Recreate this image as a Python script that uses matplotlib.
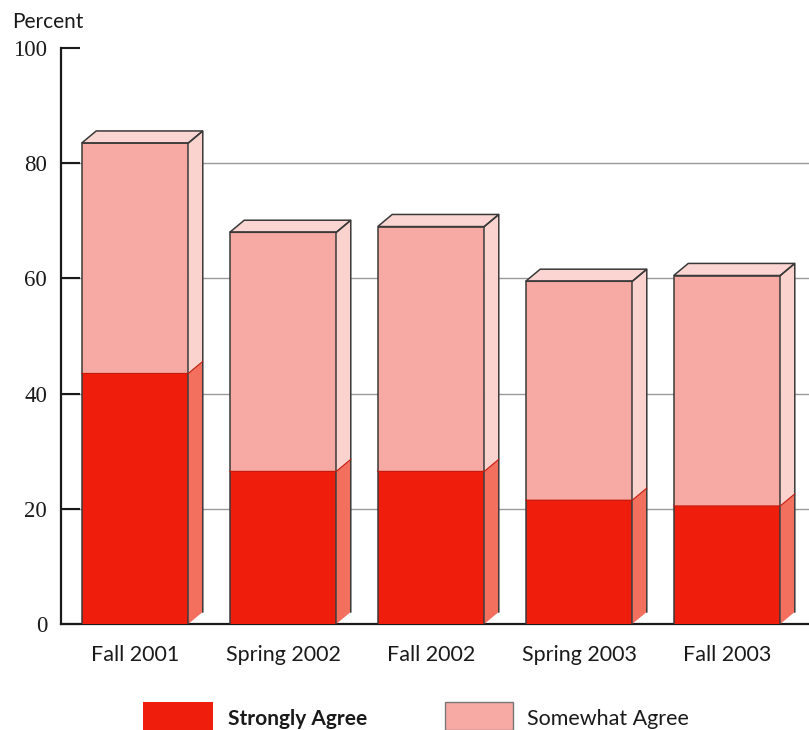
import matplotlib
matplotlib.use('Agg')
import matplotlib.pyplot as plt
from matplotlib.patches import Polygon, Rectangle
import numpy as np

# data
terms = ['Fall 2001', 'Spring 2002', 'Fall 2002', 'Spring 2003', 'Fall 2003']
strongly = [43.5, 26.5, 26.5, 21.5, 20.5]
somewhat = [40.0, 41.5, 42.5, 38.0, 40.0]
yticks = [0, 20, 40, 60, 80, 100]
gridlines = [20, 40, 60, 80]

red = '#ef1e0c'
red_side = '#f3705f'
pink = '#f7aaa3'
pink_side = '#fad3cf'
pink_top = '#fbd5d1'
edge = '#3a3a3a'
txt = '#1a1a1a'

width = 0.72
dx, dy = 0.098, 2.1   # depth of the fake 3d faces

fig = plt.figure(figsize=(8.09, 7.30), dpi=100)
ax = fig.add_axes([61 / 809, 106 / 730, 1 - 61 / 809, 576 / 730])

for g in gridlines:
    ax.axhline(g, color='#9a9a9a', lw=1.0, zorder=0)

x = np.arange(len(terms))
bottoms = np.zeros(len(terms))
for vals, front, side in [(strongly, red, red_side), (somewhat, pink, pink_side)]:
    ax.bar(x, vals, width, bottom=bottoms, color=front, edgecolor='none', zorder=3)
    for xi, b, v in zip(x, bottoms, vals):
        x1 = xi + width / 2
        ax.add_patch(Polygon([(x1, b), (x1 + dx, b + dy), (x1 + dx, b + v + dy), (x1, b + v)],
                             closed=True, facecolor=side, edgecolor='none', zorder=3))
    bottoms = bottoms + np.array(vals)

# outlines, boundaries and top faces
for xi, s, tot in zip(x, strongly, bottoms):
    x0, x1 = xi - width / 2, xi + width / 2
    ax.add_patch(Polygon([(x0, tot), (x0 + dx, tot + dy), (x1 + dx, tot + dy), (x1, tot)],
                         closed=True, facecolor=pink_top, edgecolor=edge, lw=1.1, zorder=4))
    ax.plot([x0, x0, x1, x1], [0, tot, tot, 0], color=edge, lw=1.1, zorder=4)
    ax.plot([x1, x1 + dx, x1 + dx], [tot, tot + dy, dy], color=edge, lw=1.1, zorder=4)
    ax.plot([x0, x1, x1 + dx], [s, s, s + dy], color='#c21a0c', lw=0.8, zorder=4)

ax.set_xlim(-0.5, 4.554)
ax.set_ylim(0, 100)
ax.set_yticks(yticks)
ax.set_yticklabels([str(t) for t in yticks], family=['Liberation Serif', 'DejaVu Serif'],
                   fontsize=16.5, color=txt)
ax.set_xticks(x)
ax.set_xticklabels(terms, family=['Lato', 'DejaVu Sans'], fontsize=15.5, color=txt)
ax.tick_params(axis='y', direction='in', length=14, width=1.5, pad=10, color=txt)
ax.tick_params(axis='x', length=0, pad=15)

for sp in ['top', 'right']:
    ax.spines[sp].set_visible(False)
for sp in ['left', 'bottom']:
    ax.spines[sp].set_linewidth(1.6)
    ax.spines[sp].set_color(txt)

fig.text(12 / 809, 1 - 22 / 730, 'Percent', family=['Lato', 'DejaVu Sans'], fontsize=15,
         va='center', ha='left', color=txt)

# legend drawn by hand at the bottom
fig.patches.append(Rectangle((143 / 809, 0), 70 / 809, 28 / 730, transform=fig.transFigure,
                             facecolor=red, edgecolor='none'))
fig.patches.append(Rectangle((445 / 809, 0), 68 / 809, 28 / 730, transform=fig.transFigure,
                             facecolor=pink, edgecolor='#777777', lw=1))
fig.text(228 / 809, 11 / 730, 'Strongly Agree', family=['Lato', 'DejaVu Sans'], fontsize=15,
         fontweight='bold', va='center', ha='left', color=txt)
fig.text(527 / 809, 11 / 730, 'Somewhat Agree', family=['Lato', 'DejaVu Sans'], fontsize=15.5,
         va='center', ha='left', color=txt)

fig.savefig('out.png', dpi=100)
